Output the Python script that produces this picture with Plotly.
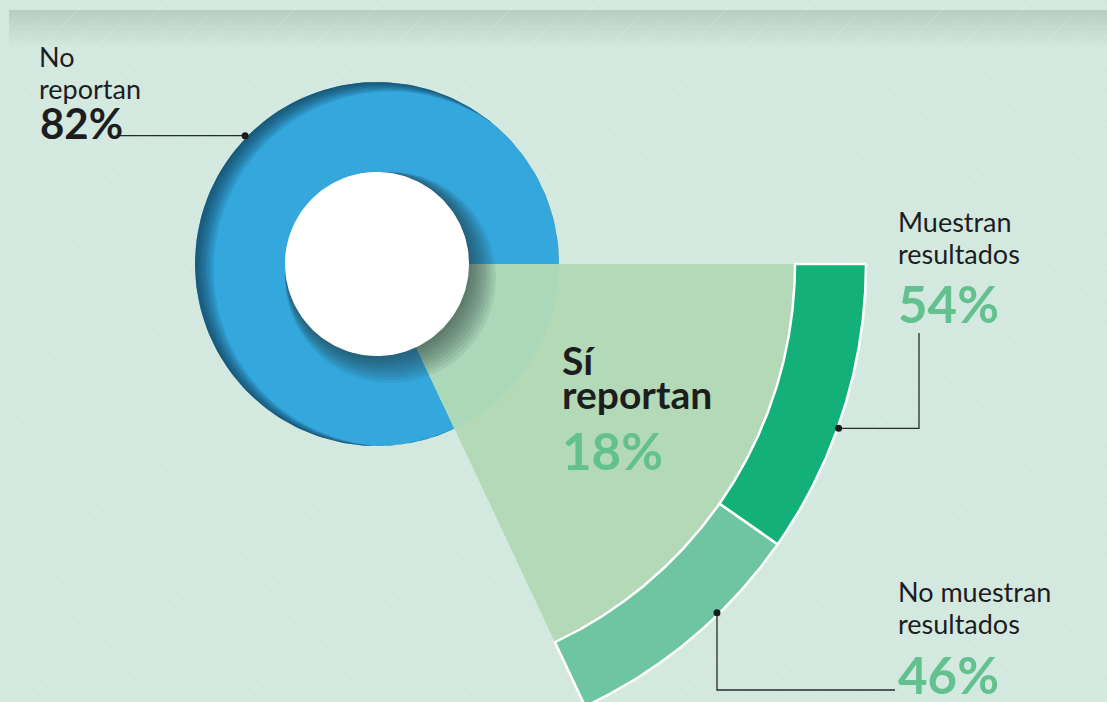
import numpy as np
import plotly.graph_objects as go

# ---- data ----
reporta_labels = ["No reportan", "Sí reportan"]
reporta_pct = [82, 18]
resultado_labels = ["Muestran resultados", "No muestran resultados"]
resultado_pct = [54, 46]

# ---- geometry / style ----
W, H = 1107, 702
CX, CY = 377, 264          # donut centre (pixel units, y down)
R_HOLE, R_DONUT = 92, 182
R_WEDGE, R_RING = 418, 489

BG = "#d3e9df"
BLUE = "#34a7dd"
WEDGE = "#b3d9b7"
WEDGE_IN = "#aad8b9"
RING_COLORS = ["#14b07a", "#6dc5a1"]
PCT_GREEN = "#63c190"
INK = "#1d1d1f"
FONT = "Lato"


def pt(r, a):
    a = np.radians(a)
    return CX + r * np.cos(a), CY - r * np.sin(a)


def sector(r0, r1, a0, a1, n=160):
    a = np.linspace(a0, a1, n)
    xo, yo = pt(r1, a)
    if np.isscalar(r0) and r0 == 0:
        xi, yi = np.array([CX]), np.array([CY])
    else:
        xi, yi = pt(r0, a[::-1])
    x = np.concatenate([xo, xi, xo[:1]])
    y = np.concatenate([yo, yi, yo[:1]])
    return x, y


def circle(cx, cy, r, n=160):
    a = np.linspace(0, 2 * np.pi, n)
    return cx + r * np.cos(a), cy + r * np.sin(a)


def poly(fig, x, y, color, line=None):
    fig.add_trace(go.Scatter(
        x=x, y=y, mode="lines", fill="toself", fillcolor=color,
        line=line or dict(width=0, color=color),
        hoverinfo="skip", showlegend=False))


fig = go.Figure()

span_si = 360 * reporta_pct[1] / 100
span_no = 360 - span_si

# blue donut (No reportan)
x, y = sector(R_HOLE, R_DONUT, 0, span_no)
poly(fig, x, y, BLUE)

# darker rim on the upper-left of the donut
a = np.linspace(0, span_no, 200)
rim = np.clip(5 - 14.6 * np.cos(np.radians(a + 20)), 0, None)
for k in range(1, 9):
    w = rim * k / 8
    xo, yo = pt(R_DONUT, a)
    xi, yi = pt(R_DONUT - w[::-1], a[::-1])
    poly(fig, np.concatenate([xo, xi]), np.concatenate([yo, yi]), "rgba(10,35,60,0.1)")

# exploded wedge (Sí reportan)
x, y = sector(0, R_WEDGE, 0, -span_si)
poly(fig, x, y, WEDGE)
x, y = sector(0, R_DONUT, 0, -span_si)
poly(fig, x, y, WEDGE_IN)

# outer ring split of Sí reportan
start = 0
ring_ang = []
for pct, col in zip(resultado_pct, RING_COLORS):
    end = start - span_si * pct / 100
    x, y = sector(R_WEDGE, R_RING, start, end)
    poly(fig, x, y, col, line=dict(width=2.5, color="white"))
    ring_ang.append((start, end))
    start = end

# drop shadow of the centre hole
for k in range(1, 10):
    x, y = circle(CX + 1.5 * k, CY + 1.5 * k, R_HOLE + 1.5 * k)
    poly(fig, x, y, "rgba(25,45,35,0.075)")
x, y = circle(CX, CY, R_HOLE)
poly(fig, x, y, "white")

# leader lines
blue_dot = pt(R_DONUT + 2, span_no * 0.46)
dark_dot = pt(R_RING + 1, ring_ang[0][0] + (ring_ang[0][1] - ring_ang[0][0]) * 0.56)
light_dot = pt(R_RING - 2, ring_ang[1][0] + (ring_ang[1][1] - ring_ang[1][0]) * 0.36)

leaders = [
    ([120, blue_dot[0]], [blue_dot[1], blue_dot[1]]),
    ([dark_dot[0], 919, 919], [dark_dot[1], dark_dot[1], 333]),
    ([light_dot[0], light_dot[0], 895], [light_dot[1], 690, 690]),
]
for lx, ly in leaders:
    fig.add_trace(go.Scatter(x=lx, y=ly, mode="lines",
                             line=dict(color="#2a2a2a", width=1.3),
                             hoverinfo="skip", showlegend=False))
fig.add_trace(go.Scatter(
    x=[blue_dot[0], dark_dot[0], light_dot[0]],
    y=[blue_dot[1], dark_dot[1], light_dot[1]],
    mode="markers", marker=dict(color="#1a1a1a", size=7),
    hoverinfo="skip", showlegend=False))


def text(s, x, base, size, color=INK, weight=400):
    fig.add_annotation(x=x, y=base - 0.99 * size - 1, text=s, showarrow=False,
                       xanchor="left", yanchor="top", align="left",
                       font=dict(family=FONT, size=size, color=color, weight=weight))


no_l = reporta_labels[0].split(" ")
text(no_l[0], 37, 66, 27)
text(no_l[1], 37, 98, 27)
text(f"{reporta_pct[0]}%", 38, 139, 42, weight=700)

si_l = reporta_labels[1].split(" ")
text(si_l[0], 560, 375, 39, weight=700)
text(si_l[1], 560, 409, 39, weight=700)
text(f"{reporta_pct[1]}%", 560, 469, 51, PCT_GREEN, 700)

m_l = resultado_labels[0].split(" ")
text(m_l[0], 896, 231, 27)
text(m_l[1], 896, 263, 27)
text(f"{resultado_pct[0]}%", 896, 322, 51, PCT_GREEN, 700)

n_l = resultado_labels[1].rsplit(" ", 1)
text(n_l[0], 896, 601, 27)
text(n_l[1], 896, 633, 27)
text(f"{resultado_pct[1]}%", 896, 693, 51, PCT_GREEN, 700)

# background: top shadow band and faint diagonal stripes
shapes = []
for i in range(12):
    shapes.append(dict(type="rect", xref="x", yref="y", x0=9, x1=W, y0=10 + 3 * i, y1=13 + 3 * i,
                       fillcolor=f"rgba(40,70,55,{0.16 * (1 - i / 12):.3f})",
                       line=dict(width=0), layer="below"))
for i in range(-30, 45):
    x0 = i * 27
    shapes.append(dict(type="line", xref="x", yref="y", x0=x0, y0=H, x1=x0 + 654, y1=0,
                       line=dict(color="rgba(255,255,255,0.12)", width=1.2), layer="below"))

fig.update_layout(
    width=W, height=H,
    margin=dict(l=0, r=0, t=0, b=0),
    paper_bgcolor=BG, plot_bgcolor=BG,
    xaxis=dict(range=[0, W], visible=False, fixedrange=True),
    yaxis=dict(range=[H, 0], visible=False, fixedrange=True),
    shapes=shapes,
    showlegend=False,
)

fig.write_html("out.html", config={"displayModeBar": False},
               post_script="document.body.style.margin='0';")
